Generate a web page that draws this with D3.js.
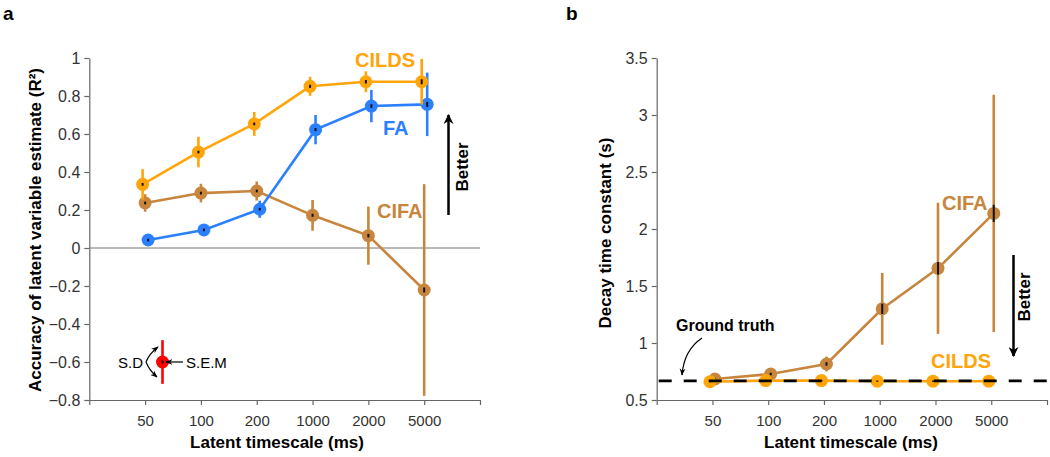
<!DOCTYPE html>
<html>
<head>
<meta charset="utf-8">
<script src="https://cdn.jsdelivr.net/npm/d3@7"></script>
<style>
  body { margin: 0; background: #fff; }
  text { font-family: Arial, "Liberation Sans", sans-serif; }
</style>
</head>
<body>
<svg id="chart" width="1050" height="457"></svg>
<script>
// latent timescales (categories)
const timescales = ["50", "100", "200", "1000", "2000", "5000"];

// panel a: R^2 accuracy, mean / SD / SEM
const cildsR2 = [0.335, 0.505, 0.653, 0.851, 0.875, 0.875];
const cildsR2Sd = [0.08, 0.08, 0.063, 0.05, 0.055, 0.12];
const faR2 = [0.042, 0.095, 0.204, 0.623, 0.747, 0.756];
const faR2Sd = [0.01, 0.015, 0.045, 0.077, 0.085, 0.167];
const cifaR2 = [0.237, 0.289, 0.300, 0.172, 0.065, -0.221];
const cifaR2Sd = [0.046, 0.049, 0.05, 0.081, 0.153, 0.557];
const semR2 = [0.004, 0.004, 0.004, 0.005, 0.006, 0.01];

// panel b: decay time constant (s)
const cildsTau = [0.66, 0.67, 0.67, 0.665, 0.665, 0.665];
const cildsTauSd = [0.01, 0.01, 0.01, 0.01, 0.01, 0.01];
const cifaTau = [0.684, 0.728, 0.816, 1.30, 1.655, 2.137];
const cifaTauSd = [0.02, 0.03, 0.065, 0.315, 0.575, 1.04];
const cifaTauSem = [0.005, 0.006, 0.01, 0.04, 0.05, 0.07];
const groundTruth = 0.667;

const yTicksA = [-0.8, -0.6, -0.4, -0.2, 0, 0.2, 0.4, 0.6, 0.8, 1];
const yTicksB = [0.5, 1, 1.5, 2, 2.5, 3, 3.5];

const orange = "#ffa50a", blue = "#2b80ff", brown = "#c8853d";

const svg = d3.select("#chart");

const defs = svg.append("defs");
defs.append("marker")
    .attr("id", "head")
    .attr("viewBox", "0 0 10 10")
    .attr("refX", 9).attr("refY", 5)
    .attr("markerWidth", 6).attr("markerHeight", 6)
    .attr("orient", "auto")
  .append("path")
    .attr("d", "M0,1 L10,5 L0,9 L3,5 Z")
    .attr("fill", "#000");
defs.append("marker")
    .attr("id", "bighead")
    .attr("viewBox", "0 0 10 10")
    .attr("refX", 9).attr("refY", 5)
    .attr("markerWidth", 4).attr("markerHeight", 4)
    .attr("orient", "auto")
  .append("path")
    .attr("d", "M0,0 L10,5 L0,10 L3,5 Z")
    .attr("fill", "#000");

function makePanel(left, right, domain, ticks, fmt) {
    const x = d3.scaleLinear().domain([0, 7]).range([left, right]);
    const y = d3.scaleLinear().domain(domain).range([400, 58]);
    const g = svg.append("g");

    const xAxis = g.append("g")
        .attr("transform", "translate(0,400)")
        .call(d3.axisBottom(x).tickValues(d3.range(0, 8))
            .tickFormat(i => timescales[i - 1] || "")
            .tickSize(5).tickSizeOuter(0));
    const yAxis = g.append("g")
        .attr("transform", `translate(${left},0)`)
        .call(d3.axisLeft(y).tickValues(ticks).tickFormat(fmt)
            .tickSize(5).tickSizeOuter(0));
    [xAxis, yAxis].forEach(a => {
        a.select(".domain").attr("stroke", "#666").attr("stroke-width", 1.2);
        a.selectAll(".tick line").attr("stroke", "#666").attr("stroke-width", 1.2);
        a.selectAll(".tick text").attr("fill", "#333")
            .style("font-family", "Arial, 'Liberation Sans', sans-serif");
    });
    xAxis.selectAll(".tick text").attr("dy", "1.2em").style("font-size", "15px");
    yAxis.selectAll(".tick text").attr("dx", "-1px").style("font-size", "16px");
    return { g, x, y };
}

function series(p, vals, sd, sem, color, dx) {
    const pts = vals.map((v, i) => ({ i: i + 1, v, sd: sd[i], sem: sem[i] }));
    const line = d3.line().x(d => p.x(d.i) + dx).y(d => p.y(d.v));
    p.g.append("path").datum(pts).attr("d", line)
        .attr("fill", "none").attr("stroke", color).attr("stroke-width", 2.6);
    p.g.selectAll(null).data(pts).join("line")
        .attr("x1", d => p.x(d.i) + dx).attr("x2", d => p.x(d.i) + dx)
        .attr("y1", d => p.y(d.v + d.sd)).attr("y2", d => p.y(d.v - d.sd))
        .attr("stroke", color).attr("stroke-width", 2.6);
    p.g.selectAll(null).data(pts).join("circle")
        .attr("cx", d => p.x(d.i) + dx).attr("cy", d => p.y(d.v))
        .attr("r", 6.5).attr("fill", color);
    p.g.selectAll(null).data(pts).join("line")
        .attr("x1", d => p.x(d.i) + dx).attr("x2", d => p.x(d.i) + dx)
        .attr("y1", d => p.y(d.v + d.sem) - 0.6).attr("y2", d => p.y(d.v - d.sem) + 0.6)
        .attr("stroke", "#111").attr("stroke-width", 2);
}

function label(g, txt, x, y, color, size, rotate) {
    const t = g.append("text").text(txt)
        .attr("fill", color).attr("font-weight", "bold")
        .style("font-size", size + "px");
    if (rotate) {
        t.attr("transform", `translate(${x},${y}) rotate(-90)`).attr("text-anchor", "middle");
    } else {
        t.attr("x", x).attr("y", y);
    }
    return t;
}

// ---------- panel a ----------
const pa = makePanel(89.3, 480, [-0.8, 1], yTicksA, d => d === 0 ? "0" : d === 1 ? "1" : d3.format("")(d));
pa.g.append("line")
    .attr("x1", pa.x(0)).attr("x2", pa.x(7))
    .attr("y1", pa.y(0)).attr("y2", pa.y(0))
    .attr("stroke", "#777").attr("stroke-width", 1.2);

series(pa, cifaR2, cifaR2Sd, semR2, brown, 0);
series(pa, faR2, faR2Sd, semR2, blue, 3);
series(pa, cildsR2, cildsR2Sd, semR2, orange, -2.5);

label(pa.g, "CILDS", 355, 67, orange, 20);
label(pa.g, "FA", 383, 135, blue, 20);
label(pa.g, "CIFA", 377, 218, brown, 20);

pa.g.append("line")
    .attr("x1", 448.5).attr("x2", 448.5).attr("y1", 215).attr("y2", 115)
    .attr("stroke", "#000").attr("stroke-width", 2.5)
    .attr("marker-end", "url(#bighead)");
label(pa.g, "Better", 468, 167, "#000", 17, true);

label(pa.g, "Accuracy of latent variable estimate (R\u00B2)", 41, 230, "#000", 17, true);
label(pa.g, "Latent timescale (ms)", 277, 448, "#000", 17).attr("text-anchor", "middle");
label(pa.g, "a", 3, 20, "#000", 19);

// inset legend for error bars
const inset = pa.g.append("g");
inset.append("line")
    .attr("x1", 162.5).attr("x2", 162.5)
    .attr("y1", pa.y(-0.485)).attr("y2", pa.y(-0.715))
    .attr("stroke", "#ff0000").attr("stroke-width", 2.6);
inset.append("circle").attr("cx", 162.5).attr("cy", pa.y(-0.6)).attr("r", 6.5).attr("fill", "#ff0000");
inset.append("line").attr("x1", 162.5).attr("x2", 162.5)
    .attr("y1", pa.y(-0.6) - 1.5).attr("y2", pa.y(-0.6) + 1.5)
    .attr("stroke", "#111").attr("stroke-width", 2);
inset.append("text").text("S.D").attr("x", 143).attr("y", 367.5)
    .attr("text-anchor", "end").style("font-size", "15px").attr("fill", "#000");
inset.append("text").text("S.E.M").attr("x", 186).attr("y", 367.5)
    .style("font-size", "15px").attr("fill", "#000");
inset.append("path").attr("d", "M183,362 L166,362")
    .attr("stroke", "#000").attr("stroke-width", 1.2).attr("fill", "none")
    .attr("marker-end", "url(#head)");
inset.append("path").attr("d", "M146,362 Q149,354 158,347")
    .attr("stroke", "#000").attr("stroke-width", 1.2).attr("fill", "none")
    .attr("marker-end", "url(#head)");
inset.append("path").attr("d", "M146,362 Q149,370 157,377")
    .attr("stroke", "#000").attr("stroke-width", 1.2).attr("fill", "none")
    .attr("marker-end", "url(#head)");

// ---------- panel b ----------
const pb = makePanel(656.7, 1047, [0.5, 3.5], yTicksB, d3.format(""));

series(pb, cifaTau, cifaTauSd, cifaTauSem, brown, 2.5);
series(pb, cildsTau, cildsTauSd, cildsTauSd.map(() => 0), orange, -2.5);

pb.g.append("line")
    .attr("x1", pb.x(0)).attr("x2", pb.x(7))
    .attr("y1", pb.y(groundTruth)).attr("y2", pb.y(groundTruth))
    .attr("stroke", "#000").attr("stroke-width", 2.7)
    .attr("stroke-dasharray", "13,12").attr("stroke-dashoffset", -2);

label(pb.g, "CIFA", 942, 210, brown, 20);
label(pb.g, "CILDS", 931, 368, orange, 20);
label(pb.g, "Ground truth", 676, 331, "#000", 16);
pb.g.append("path").attr("d", "M702,338 Q684,350 682,375")
    .attr("stroke", "#000").attr("stroke-width", 1.2).attr("fill", "none")
    .attr("marker-end", "url(#head)");

pb.g.append("line")
    .attr("x1", 1013.5).attr("x2", 1013.5).attr("y1", 255).attr("y2", 356)
    .attr("stroke", "#000").attr("stroke-width", 2.5)
    .attr("marker-end", "url(#bighead)");
label(pb.g, "Better", 1030, 297, "#000", 17, true);

label(pb.g, "Decay time constant (s)", 611, 233, "#000", 17, true);
label(pb.g, "Latent timescale (ms)", 851, 448, "#000", 17).attr("text-anchor", "middle");
label(pb.g, "b", 566, 20, "#000", 19);
</script>
</body>
</html>
